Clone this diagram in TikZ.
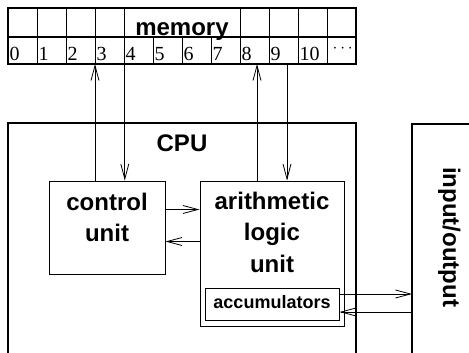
\documentclass[tikz,border=0pt]{standalone}
\usepackage{fontspec}
\setmainfont{Liberation Serif}
\setsansfont{Liberation Sans}
\usetikzlibrary{arrows.meta}
\usetikzlibrary{positioning}

\newcommand{\cellfont}{\fontsize{20}{20}\selectfont}

\tikzset{
  thickline/.style={line width=1.8pt},
  thinline/.style={line width=0.8pt},
  unitbox/.style={draw, line width=1pt, inner sep=0pt},
  bigtext/.style={font=\sffamily\bfseries\fontsize{24}{31.5}\selectfont,
                  align=center, inner sep=0pt},
  cell/.style={draw, thinline, minimum width=29pt, minimum height=27pt,
               inner xsep=1.2pt, inner ysep=0pt, anchor=south west,
               text width=26.6pt, text height=20pt, text depth=0pt},
  arr/.style={line width=0.8pt, -{Straight Barb[length=15pt,width=8pt]}},
}

\begin{document}
\begin{tikzpicture}[x=1pt,y=-1pt]
\useasboundingbox (0,0) rectangle (469,353);

% memory
\foreach \i in {0,...,10}
  \node[cell] (m\i) at (8+29*\i, 64) {\cellfont\i};
\node[cell] (m11) at (327, 64)
  {\hspace{4pt}\raisebox{8pt}{\fontsize{16}{16}\selectfont$\cdots$}};
\draw[thinline] (8,37) -- (356,37);
\foreach \x in {37,66,95,124,240,269,298,327}
  \draw[thinline] (\x,8) -- (\x,37);
\draw[thickline] (8,8) rectangle (356,64);
\node[bigtext, anchor=base] (mem) at (182,36) {memory};

% cpu
\draw[thickline] (8,360) |- (356,123) -- (356,360);
\node[bigtext, anchor=base] (cpu) at (182,151) {CPU};

\node[unitbox, minimum width=116pt, minimum height=93pt] (ctrl) at (107,227.5) {};
\node[bigtext, anchor=north] (ctrltxt) at (107,192.8) {control\\unit};

\node[unitbox, minimum width=144pt, minimum height=145pt] (alu) at (272,253.5) {};
\node[bigtext, anchor=north] (alutxt) at (272,191.8) {arithmetic\\logic\\unit};

\node[unitbox, minimum width=134pt, minimum height=32pt,
      font=\sffamily\bfseries\fontsize{18}{18}\selectfont,
      text height=13pt, text depth=4pt] (acc) at (272,304) {accumulators};

% input/output
\draw[thickline] (412,360) |- (480,124);
\coordinate (io) at (412,240);
\node[bigtext, rotate=-90, anchor=base west] (iotxt) at (443,167) {input/output};

% connections
\draw[arr] (ctrl.north -| m3.south west) -- (m3.south west);
\draw[arr] (m3.south east) -- (ctrl.north -| m3.south east);
\draw[arr] ([xshift=-15pt]alu.north) -- ([xshift=-15pt]alu.north |- m8.south);
\draw[arr] ([xshift=15pt]alu.north |- m9.south) -- ([xshift=15pt]alu.north);
\draw[arr] ([yshift=-29pt]ctrl.north east) -- ([yshift=-29pt]ctrl.north east -| alu.west);
\draw[arr] ([yshift=-61pt]alu.north west) -- ([yshift=-61pt]alu.north west -| ctrl.east);
\draw[arr] ([yshift=10pt]acc.east) -- ([yshift=10pt]acc.east -| io);
\draw[arr] ([yshift=-8pt]acc.east -| io) -- ([yshift=-8pt]acc.east);
\end{tikzpicture}
\end{document}
